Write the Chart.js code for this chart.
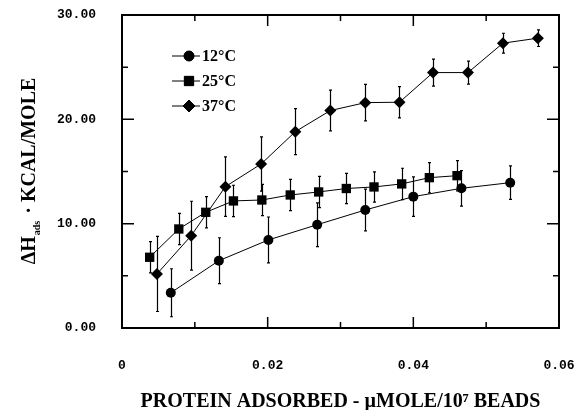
<!DOCTYPE html>
<html>
<head>
<meta charset="utf-8">
<script src="https://cdn.jsdelivr.net/npm/chart.js@4"></script>
<style>
  body { margin: 0; background: #fff; }
  canvas { display: block; }
</style>
</head>
<body>
<canvas id="chart" width="576" height="410"></canvas>
<script>
// values
const legendLabels = ['12°C', '25°C', '37°C'];

const x12 = [0.0067, 0.0133, 0.0201, 0.0268, 0.0334, 0.0400, 0.0466, 0.0533];
const y12 = [3.38, 6.45, 8.44, 9.90, 11.31, 12.59, 13.39, 13.93];
const e12 = [2.3, 2.2, 2.2, 2.1, 2.0, 1.9, 1.7, 1.6];

const x25 = [0.0038, 0.0078, 0.0115, 0.0153, 0.0192, 0.0231, 0.0270, 0.0308, 0.0346, 0.0384, 0.0422, 0.0460];
const y25 = [6.78, 9.49, 11.09, 12.18, 12.27, 12.75, 13.04, 13.37, 13.52, 13.81, 14.41, 14.60];
const e25 = [1.5, 1.5, 1.5, 1.5, 1.5, 1.5, 1.5, 1.45, 1.45, 1.5, 1.45, 1.45];

const x37 = [0.0048, 0.0095, 0.0142, 0.0191, 0.0238, 0.0286, 0.0334, 0.0381, 0.0427, 0.0475, 0.0523, 0.0571];
const y37 = [5.18, 8.85, 13.55, 15.72, 18.82, 20.84, 21.60, 21.64, 24.48, 24.48, 27.30, 27.78];
const e37 = [3.6, 3.3, 2.85, 2.6, 2.2, 1.95, 1.75, 1.5, 1.3, 1.1, 0.95, 0.8];

const xTickLabels = ['0', '', '0.02', '', '0.04', '', '0.06'];
const yTickLabels = ['0.00', '', '10.00', '', '20.00', '', '30.00'];

const xTitle = 'PROTEIN ADSORBED - \u00b5MOLE/10\u2077 BEADS';
const yTitleMain = '\u0394H';
const yTitleSub = 'ads';
const yTitleRest = ' \u00b7 KCAL/MOLE';

const xs = [x12, x25, x37];
const ys = [y12, y25, y37];
const errs = [e12, e25, e37];
const pointStyles = ['circle', 'rect', 'rectRot'];
const pointSizes = [5, 6.6, 6];

function toPoints(xv, yv) {
  return xv.map((x, i) => ({ x: x, y: yv[i] }));
}

const serifBold = 'bold 20px "Liberation Serif", "Times New Roman", serif';

// error bars, frame, inward ticks, legend and titles
const decorations = {
  id: 'decorations',
  beforeDatasetsDraw(chart) {
    const ctx = chart.ctx;
    const xScale = chart.scales.x;
    const yScale = chart.scales.y;
    ctx.save();
    ctx.strokeStyle = '#000';
    ctx.lineWidth = 1.2;
    for (let d = 0; d < xs.length; d++) {
      for (let i = 0; i < xs[d].length; i++) {
        const px = Math.round(xScale.getPixelForValue(xs[d][i])) + 0.5;
        const top = yScale.getPixelForValue(ys[d][i] + errs[d][i]);
        const bot = yScale.getPixelForValue(ys[d][i] - errs[d][i]);
        ctx.beginPath();
        ctx.moveTo(px, top);
        ctx.lineTo(px, bot);
        ctx.moveTo(px - 1.5, top);
        ctx.lineTo(px + 1.5, top);
        ctx.moveTo(px - 1.5, bot);
        ctx.lineTo(px + 1.5, bot);
        ctx.stroke();
      }
    }
    ctx.restore();
  },
  afterDraw(chart) {
    const ctx = chart.ctx;
    const a = chart.chartArea;
    const xScale = chart.scales.x;
    const yScale = chart.scales.y;
    ctx.save();
    ctx.strokeStyle = '#000';

    // frame
    ctx.lineWidth = 2;
    ctx.strokeRect(a.left, a.top, a.right - a.left, a.bottom - a.top);

    // inward ticks on all four sides
    ctx.lineWidth = 1.5;
    ctx.beginPath();
    xScale.ticks.forEach((t, i) => {
      const px = xScale.getPixelForValue(t.value);
      const len = xTickLabels[i] ? 11 : 6;
      ctx.moveTo(px, a.bottom);
      ctx.lineTo(px, a.bottom - len);
      ctx.moveTo(px, a.top);
      ctx.lineTo(px, a.top + len);
    });
    yScale.ticks.forEach((t, i) => {
      const py = yScale.getPixelForValue(t.value);
      const len = yTickLabels[i] ? 12 : 6;
      ctx.moveTo(a.left, py);
      ctx.lineTo(a.left + len, py);
      ctx.moveTo(a.right, py);
      ctx.lineTo(a.right - len, py);
    });
    ctx.stroke();

    // legend
    ctx.font = 'bold 16px "Liberation Serif", "Times New Roman", serif';
    ctx.textBaseline = 'middle';
    ctx.textAlign = 'left';
    ctx.fillStyle = '#000';
    chart.data.datasets.forEach((ds, i) => {
      const ly = a.top + 41 + i * 25;
      const lx = a.left + 50;
      ctx.lineWidth = 1;
      ctx.beginPath();
      ctx.moveTo(lx, ly);
      ctx.lineTo(lx + 28, ly);
      ctx.stroke();
      Chart.helpers.drawPoint(ctx, {
        pointStyle: pointStyles[i],
        radius: pointSizes[i],
        rotation: 0,
        borderWidth: 1
      }, lx + 17, ly);
      ctx.fill();
      ctx.fillText(legendLabels[i], lx + 30, ly + 1);
    });

    // x title
    ctx.font = serifBold;
    ctx.textAlign = 'center';
    ctx.textBaseline = 'alphabetic';
    ctx.fillText(xTitle, (a.left + a.right) / 2, 407);

    // y title, rotated, with subscript
    ctx.translate(35, (a.top + a.bottom) / 2);
    ctx.rotate(-Math.PI / 2);
    const subFont = 'bold 10px "Liberation Serif", "Times New Roman", serif';
    ctx.font = serifBold;
    const w1 = ctx.measureText(yTitleMain).width;
    const w3 = ctx.measureText(yTitleRest).width;
    ctx.font = subFont;
    const w2 = ctx.measureText(yTitleSub).width + 2;
    let tx = -(w1 + w2 + w3) / 2;
    ctx.textAlign = 'left';
    ctx.font = serifBold;
    ctx.fillText(yTitleMain, tx, 0);
    tx += w1 + 1;
    ctx.font = subFont;
    ctx.fillText(yTitleSub, tx, 5);
    tx += w2;
    ctx.font = serifBold;
    ctx.fillText(yTitleRest, tx, 0);
    ctx.restore();
  }
};

const datasets = legendLabels.map((label, i) => ({
  label: label,
  data: toPoints(xs[i], ys[i]),
  showLine: true,
  borderColor: '#000',
  borderWidth: 1,
  backgroundColor: '#000',
  pointStyle: pointStyles[i],
  pointRadius: pointSizes[i],
  pointBorderWidth: 0,
  pointBackgroundColor: '#000',
  tension: 0
}));

const tickFont = { family: '"Liberation Mono", "Courier New", monospace', size: 13, weight: 'bold' };

new Chart(document.getElementById('chart'), {
  type: 'scatter',
  data: { datasets: datasets },
  options: {
    responsive: false,
    animation: false,
    layout: { padding: { top: 15, right: 17, left: 0, bottom: 0 } },
    plugins: {
      legend: { display: false },
      tooltip: { enabled: false }
    },
    scales: {
      x: {
        type: 'linear',
        min: 0,
        max: 0.06,
        grid: { display: false },
        border: { display: false },
        ticks: {
          stepSize: 0.01,
          padding: 22,
          color: '#000',
          font: tickFont,
          maxRotation: 0,
          autoSkip: false,
          callback: (v, i) => xTickLabels[i]
        },
        afterFit: scale => {
          scale.height = 82;
          scale.paddingLeft = 0;
          scale.paddingRight = 0;
        }
      },
      y: {
        type: 'linear',
        min: 0,
        max: 30,
        grid: { display: false },
        border: { display: false },
        ticks: {
          stepSize: 5,
          padding: 18,
          color: '#000',
          font: tickFont,
          autoSkip: false,
          callback: (v, i) => yTickLabels[i]
        },
        afterFit: scale => {
          scale.width = 122;
          scale.paddingTop = 0;
          scale.paddingBottom = 0;
        }
      }
    }
  },
  plugins: [decorations]
});
</script>
</body>
</html>
